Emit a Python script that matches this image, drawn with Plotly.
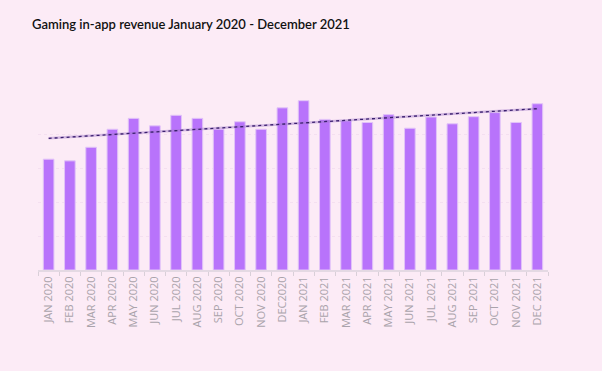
import numpy as np
import plotly.graph_objects as go

months = ["JAN 2020", "FEB 2020", "MAR 2020", "APR 2020", "MAY 2020", "JUN 2020",
          "JUL 2020", "AUG 2020", "SEP 2020", "OCT 2020", "NOV 2020", "DEC2020",
          "JAN 2021", "FEB 2021", "MAR 2021", "APR 2021", "MAY 2021", "JUN 2021",
          "JUL 2021", "AUG 2021", "SEP 2021", "OCT 2021", "NOV 2021", "DEC 2021"]
revenue = [3.26, 3.21, 3.61, 4.14, 4.46, 4.24, 4.55, 4.46, 4.14, 4.36, 4.14, 4.77,
           4.98, 4.43, 4.39, 4.34, 4.57, 4.17, 4.50, 4.30, 4.51, 4.63, 4.34, 4.89]

idx = np.arange(len(revenue))
slope, intercept = np.polyfit(idx, revenue, 1)
trend = slope * idx + intercept

fig = go.Figure()
fig.add_trace(go.Bar(
    x=months, y=revenue,
    marker=dict(color="#b873fb", line=dict(color="#e2c4f8", width=1)),
    hoverinfo="skip",
))
fig.add_trace(go.Scatter(
    x=months, y=trend, mode="lines",
    line=dict(color="rgba(160,120,200,0.45)", width=2.5),
    hoverinfo="skip",
))
fig.add_trace(go.Scatter(
    x=months, y=trend, mode="lines",
    line=dict(color="#3a1f6e", width=1.3, dash="dot"),
    hoverinfo="skip",
))

fig.update_layout(
    width=602, height=371,
    paper_bgcolor="#fcebf6", plot_bgcolor="#fcebf6",
    showlegend=False,
    bargap=0.5,
    margin=dict(l=38, r=54, t=100, b=101),
    title=dict(
        text="Gaming in-app revenue January 2020 - December 2021",
        x=0, xref="paper", xanchor="left", y=0.935, yanchor="middle",
        font=dict(family="Lato", size=13, color="#111111", weight=600),
        pad=dict(l=-6),
    ),
    xaxis=dict(
        type="category",
        tickangle=-90,
        tickfont=dict(family="Open Sans", size=11, color="#aaa3ab"),
        showline=True, linecolor="#e4d9e3", linewidth=2,
        ticks="outside", tickson="boundaries", ticklen=4, tickcolor="#d9cfd8",
        showgrid=False,
    ),
    yaxis=dict(
        range=[0, 5], dtick=1,
        showticklabels=False,
        showgrid=True, gridcolor="#f4dff0", gridwidth=1, griddash="dot",
        zeroline=False,
    ),
)

fig.write_html(
    "out.html",
    config={"displayModeBar": False},
    post_script="document.body.style.margin='0';document.body.style.background='#fcebf6';",
)
